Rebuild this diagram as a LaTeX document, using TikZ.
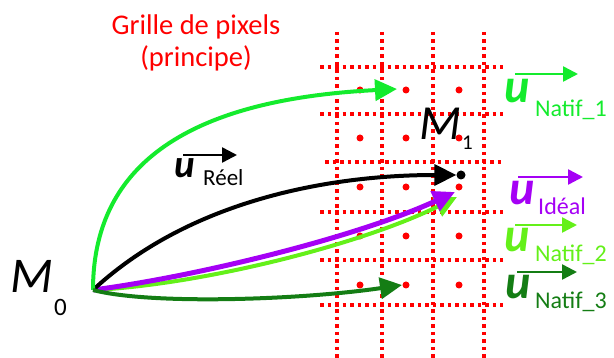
\documentclass[tikz,border=0pt]{standalone}
\usepackage{fontspec}
\setmainfont{Carlito}
\usetikzlibrary{arrows.meta}

\definecolor{vertnatifa}{RGB}{20,235,45}
\definecolor{vertnatifb}{RGB}{100,240,25}
\definecolor{vertnatifc}{RGB}{20,125,20}
\definecolor{violetideal}{RGB}{165,0,245}

\tikzset{
  gridline/.style={red, line width=3.5pt, dash pattern=on 3.5pt off 4pt},
  pixdot/.style={circle, fill=red, inner sep=0pt, minimum size=7pt},
  traj/.style={line width=4pt, -{Triangle[length=22pt,width=21pt]}},
  vecarrow/.style={line width=2.5pt, -{Triangle[length=15pt,width=15pt]}},
  vecu/.style={inner sep=0pt, anchor=base west, font=\fontsize{48}{48}\selectfont\bfseries\itshape},
  vecsub/.style={inner sep=0pt, anchor=base west, font=\fontsize{24}{24}\selectfont}
}

\begin{document}
\begin{tikzpicture}[x=1pt, y=-1pt]
  \useasboundingbox (0,0) rectangle (614,358);

  % Title
  \node[red, anchor=base, font=\fontsize{28.5}{28.5}\selectfont] (titre1) at (196,35) {Grille de pixels};
  \node[red, anchor=base, font=\fontsize{28.5}{28.5}\selectfont] (titre2) at (196,67) {(principe)};

  % Pixel grid
  \foreach \gx in {337,382,433,484}
    \draw[gridline] (\gx,32) -- (\gx,358);
  \foreach \gy in {67,114,212,260,305}
    \draw[gridline] (320,\gy) -- (503,\gy);
  \draw[gridline] (325,162) -- (503,162);

  % Pixel centres
  \foreach \py in {90,138,187,236,285}
    \foreach \px in {360,406,459}
      \node[pixdot] at (\px,\py) {};

  % Points
  \coordinate (m0) at (93,290);
  \node[circle, fill=black, inner sep=0pt, minimum size=9pt] (m1) at (461,175) {};
  \coordinate (tnatifa) at (397,89);
  \coordinate (tnatifb) at (457,197);
  \coordinate (tideal) at (455,192);
  \coordinate (treel) at (m1.west);
  \coordinate (tnatifc) at (402,285);

  % Trajectories
  \draw[traj, vertnatifb] (m0) .. controls (200,285) and (360,245) .. (tnatifb);
  \draw[traj, violetideal, line width=5pt] (m0) .. controls (200,276) and (360,236) .. (tideal);
  \draw[traj, black] (m0) .. controls (190,200) and (330,175) .. (treel);
  \draw[traj, vertnatifa] (m0) .. controls (93,170) and (180,100) .. (tnatifa);
  \draw[traj, vertnatifc] (m0) .. controls (150,305) and (300,300) .. (tnatifc);

  % Point labels
  \node[inner sep=0pt, anchor=base west, font=\fontsize{50}{50}\selectfont\itshape] (lblm0) at (10,293) {M};
  \node[inner sep=0pt, anchor=base west, font=\fontsize{25}{25}\selectfont] (lblm0s) at (54,316) {0};
  \node[inner sep=0pt, anchor=base west, font=\fontsize{49}{49}\selectfont\itshape] (lblm1) at (419,140) {M};
  \node[inner sep=0pt, anchor=base west, font=\fontsize{21}{21}\selectfont] (lblm1s) at (462,150) {1};

  % Vector labels
  \node[vecu, font=\fontsize{39}{39}\selectfont\bfseries\itshape] (ureel) at (174,178) {u};
  \node[vecsub, font=\fontsize{23}{23}\selectfont] (sreel) at (203,186) {Réel};
  \draw[vecarrow] (183,155) -- (237,155);

  \node[vecu, vertnatifa] (unatifa) at (504,103) {u};
  \node[vecsub, vertnatifa] (snatifa) at (535,117) {Natif\_1};
  \draw[vecarrow, vertnatifa] (515,74) -- (578,74);

  \node[vecu, violetideal] (uideal) at (509,205) {u};
  \node[vecsub, violetideal] (sideal) at (538,215) {Idéal};
  \draw[vecarrow, violetideal] (518,177) -- (583,177);

  \node[vecu, vertnatifb] (unatifb) at (504,252) {u};
  \node[vecsub, vertnatifb] (snatifb) at (535,262) {Natif\_2};
  \draw[vecarrow, vertnatifb] (515,225) -- (577,225);

  \node[vecu, vertnatifc] (unatifc) at (505,299) {u};
  \node[vecsub, vertnatifc] (snatifc) at (535,309) {Natif\_3};
  \draw[vecarrow, vertnatifc] (517,272) -- (577,272);
\end{tikzpicture}
\end{document}
